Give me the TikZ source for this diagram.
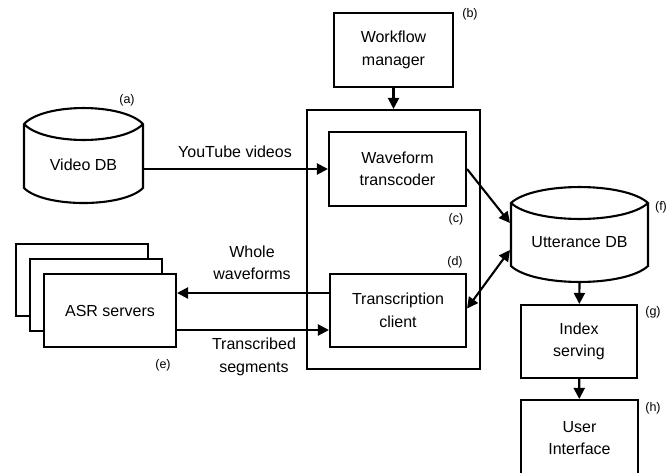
\documentclass[tikz,border=0pt]{standalone}
\usepackage{fontspec}
\setmainfont{Liberation Sans}
\usetikzlibrary{arrows.meta}
\begin{document}
\begin{tikzpicture}[x=1pt,y=-1pt,
  line width=2.1pt,
  txt/.style={font=\fontsize{16}{22.5}\selectfont, align=center},
  tag/.style={font=\fontsize{12.5}{14}\selectfont, inner sep=0pt},
  block/.style={draw, fill=white, rectangle, inner sep=0pt, txt},
  hole/.style={rectangle, inner sep=0pt, txt},
  arr/.style={-{Triangle[length=11pt,width=11pt]}},
  darr/.style={{Triangle[length=11pt,width=11pt]}-{Triangle[length=11pt,width=11pt]}}
]
\useasboundingbox (0,0) rectangle (672,472);

% database cylinders: lens-shaped lid, straight sides, curved base
\draw[fill=white] (24,124) .. controls (44,102.7) and (123,102.7) .. (143,124)
  -- (143,188) .. controls (123,208) and (44,208) .. (24,188) -- cycle;
\draw (24,124) .. controls (44,145.3) and (123,145.3) .. (143,124);
\node[hole, minimum width=119pt, minimum height=46pt] (video) at (83.5,165) {Video DB};

\draw[fill=white] (511,203) .. controls (534,181.7) and (625,181.7) .. (648,203)
  -- (648,266) .. controls (625,287.3) and (534,287.3) .. (511,266) -- cycle;
\draw (511,203) .. controls (534,224.3) and (625,224.3) .. (648,203);
\node[hole, minimum width=137pt, minimum height=46pt] (utt) at (579.5,242) {Utterance DB};
\coordinate (uttbase) at (579.5,282);

% processing blocks
\node[block, minimum width=119pt, minimum height=74pt] (wm) at (393.5,50) {Workflow\\manager};
\node[draw, rectangle, inner sep=0pt, minimum width=173pt, minimum height=259pt] (core) at (393.5,239.5) {};
\node[block, minimum width=137pt, minimum height=74pt] (wave) at (397.5,169) {Waveform\\transcoder};
\node[block, minimum width=136pt, minimum height=73pt] (client) at (398,310.5) {Transcription\\client};
\node[block, minimum width=116pt, minimum height=73pt] (index) at (579,341.5) {Index\\serving};
\node[block, minimum width=117pt, minimum height=76pt] (ui) at (579.5,438) {User\\Interface};

% stacked ASR server boxes
\node[block, minimum width=132pt, minimum height=72pt] (asr3) at (82,280) {};
\node[block, minimum width=132pt, minimum height=72pt] (asr2) at (96,295) {};
\node[block, minimum width=132pt, minimum height=73pt] (asr) at (110,310.5) {ASR servers};

% connectors
\draw[arr] (video.east |- wave.west) -- (wave.west);
\draw[arr] (wm) -- (core);
\draw[arr] (wave.east) -- ([yshift=19pt]utt.west);
\draw[darr] ([yshift=2pt]client.east) -- ([yshift=-8pt]utt.west);
\draw[arr] (uttbase) -- (index);
\draw[arr] (index) -- (ui);
\coordinate (ww) at ([yshift=17.5pt]client.west);
\draw[arr] (ww) -- (ww -| asr.east);
\coordinate (ts) at ([yshift=-19.5pt]asr.east);
\draw[arr] (ts) -- (ts -| client.west);

% connector labels
\node[txt] (lyt) at (235,152) {YouTube videos};
\node[txt] (lww) at (252,263) {Whole\\waveforms};
\node[txt] (lts) at (254,357) {Transcribed\\segments};

% component tags
\node[tag] (ta) at (127,100) {(a)};
\node[tag] (tb) at (470,14) {(b)};
\node[tag] (tc) at (456,219) {(c)};
\node[tag] (td) at (455,262) {(d)};
\node[tag] (te) at (163,365) {(e)};
\node[tag] (tf) at (661,207) {(f)};
\node[tag] (tg) at (653,312) {(g)};
\node[tag] (th) at (653,408) {(h)};
\end{tikzpicture}
\end{document}
